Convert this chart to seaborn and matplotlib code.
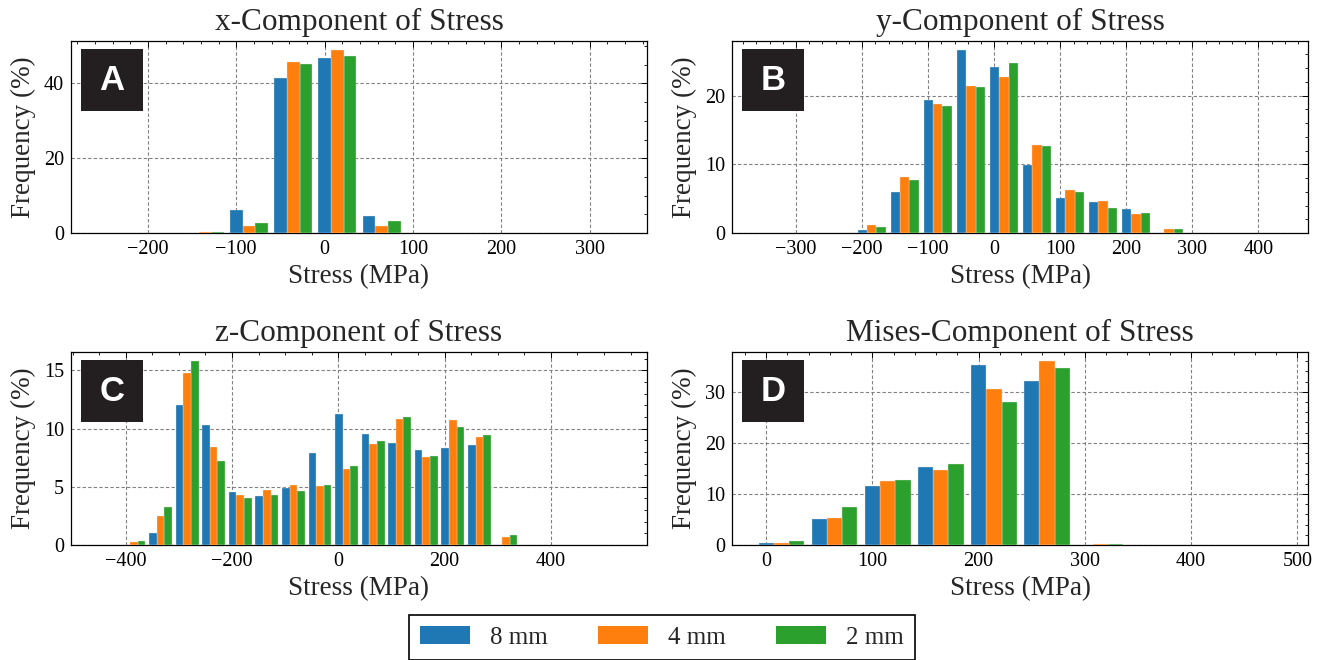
import numpy as np
import pandas as pd
import matplotlib
matplotlib.use("Agg")
import matplotlib.pyplot as plt
from matplotlib.ticker import AutoMinorLocator
from matplotlib.patches import Patch, Rectangle
import seaborn as sns

# ---- data -----------------------------------------------------------------
sizes = ["8 mm", "4 mm", "2 mm"]
colors = ["#1f77b4", "#ff7f0e", "#2ca02c"]

# x-component of stress: bin edges (MPa) and frequency (%) per mesh size
x_edges = [-160.5, -110.5, -60.5, -10.5, 39.5, 89.5]
x_8mm = [0.0, 6.25, 41.5, 46.7, 4.46]
x_4mm = [0.3, 1.96, 45.8, 48.9, 1.96]
x_2mm = [0.25, 2.77, 45.3, 47.2, 3.3]

# y-component of stress
y_edges = [-210.5, -160.5, -110.5, -60.5, -10.5, 39.5, 89.5, 139.5, 189.5, 239.5, 289.5]
y_8mm = [0.5, 5.97, 19.3, 26.6, 24.2, 9.85, 5.1, 4.47, 3.5, 0.0]
y_4mm = [1.17, 8.2, 18.7, 21.4, 22.7, 12.8, 6.3, 4.6, 2.7, 0.58]
y_2mm = [0.92, 7.77, 18.5, 21.2, 24.8, 12.6, 5.9, 3.6, 2.96, 0.58]

# z-component of stress
z_edges = [-409.5, -359.5, -309.5, -259.5, -209.5, -159.5, -109.5, -59.5,
           -9.5, 40.5, 90.5, 140.5, 190.5, 240.5, 290.5, 340.5]
z_8mm = [0.0, 1.07, 12.05, 10.3, 4.58, 4.24, 4.87, 7.9, 11.27, 9.57, 8.79, 8.13, 8.36, 8.56, 0.0]
z_4mm = [0.26, 2.48, 14.8, 8.44, 4.32, 4.7, 5.13, 5.1, 6.54, 8.7, 10.86, 7.58, 10.78, 9.25, 0.72]
z_2mm = [0.32, 3.29, 15.8, 7.18, 4.0, 4.32, 4.64, 5.16, 6.8, 8.96, 11.0, 7.67, 10.14, 9.45, 0.89]

# von Mises stress
m_edges = [-10.5, 39.5, 89.5, 139.5, 189.5, 239.5, 289.5, 339.5]
m_8mm = [0.33, 5.19, 11.56, 15.36, 35.3, 32.2, 0.0]
m_4mm = [0.4, 5.38, 12.48, 14.77, 30.6, 36.0, 0.13]
m_2mm = [0.85, 7.49, 12.8, 15.9, 28.0, 34.6, 0.13]

panels = [
    ("A", "x-Component of Stress", x_edges, [x_8mm, x_4mm, x_2mm], (-287, 365)),
    ("B", "y-Component of Stress", y_edges, [y_8mm, y_4mm, y_2mm], (-397, 475)),
    ("C", "z-Component of Stress", z_edges, [z_8mm, z_4mm, z_2mm], (-503, 581)),
    ("D", "Mises-Component of Stress", m_edges, [m_8mm, m_4mm, m_2mm], (-32, 510)),
]

# ---- style ----------------------------------------------------------------
sns.set_style("white")
plt.rcParams.update({
    "font.family": ["Liberation Serif", "DejaVu Serif"],
    "mathtext.fontset": "stix",
    "axes.edgecolor": "black",
    "axes.linewidth": 0.9,
    "xtick.direction": "in",
    "ytick.direction": "in",
    "xtick.top": True,
    "ytick.right": True,
    "xtick.major.size": 4.3,
    "ytick.major.size": 4.3,
    "xtick.minor.size": 2.4,
    "ytick.minor.size": 2.4,
    "xtick.major.width": 0.7,
    "ytick.major.width": 0.7,
    "xtick.minor.width": 0.6,
    "ytick.minor.width": 0.6,
    "xtick.minor.visible": True,
    "ytick.minor.visible": True,
    "xtick.color": "black",
    "ytick.color": "black",
    "xtick.labelsize": 14.5,
    "ytick.labelsize": 14.5,
    "xtick.major.pad": 5,
    "ytick.major.pad": 5,
})

W, H = 1327, 660
fig = plt.figure(figsize=(W / 100, H / 100), dpi=100)

# axes boxes in pixels: (left, top, right, bottom)
boxes = [(71, 41, 647, 233), (732, 41, 1308, 233),
         (71, 352, 647, 545), (732, 352, 1308, 545)]

for (tag, title, edges, series, xlim), (l, t, r, b) in zip(panels, boxes):
    ax = fig.add_axes([l / W, 1 - b / H, (r - l) / W, (b - t) / H])
    centers = [0.5 * (lo + hi) for lo, hi in zip(edges[:-1], edges[1:])]
    df = pd.concat([
        pd.DataFrame({"stress": centers, "freq": vals, "size": name})
        for name, vals in zip(sizes, series)
    ], ignore_index=True)

    sns.histplot(data=df, x="stress", weights="freq", hue="size",
                 hue_order=sizes, palette=colors, bins=list(edges),
                 multiple="dodge", shrink=0.86, alpha=1.0,
                 edgecolor="#e8e8e8", linewidth=0.25, legend=False,
                 zorder=3, ax=ax)

    ax.set_xlim(*xlim)
    ymax = max(max(s) for s in series)
    ax.set_ylim(0, ymax * 1.05)
    ax.xaxis.set_minor_locator(AutoMinorLocator())
    ax.yaxis.set_minor_locator(AutoMinorLocator())
    ax.grid(True, which="major", linestyle=(0, (3, 2)), color="#808080",
            linewidth=0.8, zorder=0)
    ax.set_axisbelow(True)

    ax.set_title(title, fontsize=22.5, pad=8)
    ax.set_xlabel("Stress (MPa)", fontsize=19.5, labelpad=4)
    ax.set_ylabel("Frequency (%)", fontsize=19.5, labelpad=6)

    # panel tag in a black square
    bw, bh = 62 / (r - l), 62 / (b - t)
    x0, y1 = 10 / (r - l), 1 - 8 / (b - t)
    ax.add_patch(Rectangle((x0, y1 - bh), bw, bh, transform=ax.transAxes,
                           facecolor="#231f20", edgecolor="none", zorder=6))
    ax.text(x0 + bw / 2, y1 - bh / 2, tag, transform=ax.transAxes,
            ha="center", va="center", color="white", fontsize=25,
            fontweight="bold", family="Liberation Sans", zorder=7)

handles = [Patch(facecolor=c, edgecolor="none") for c in colors]
leg = fig.legend(handles, sizes, ncol=3, loc="lower center",
                 bbox_to_anchor=(662 / W, 0.0), borderaxespad=0.0,
                 fontsize=18, frameon=True, fancybox=False, framealpha=1,
                 edgecolor="black", handlelength=2.0, handleheight=0.7,
                 handletextpad=0.8, columnspacing=2.0, borderpad=0.45)
leg.get_frame().set_linewidth(1.2)

fig.savefig("out.png", dpi=100)
